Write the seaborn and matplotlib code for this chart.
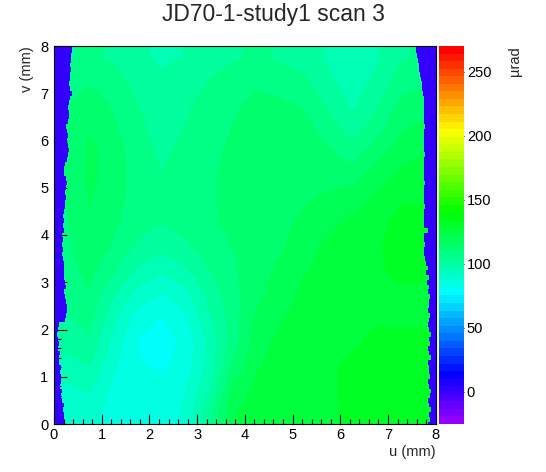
import colorsys
import numpy as np
import matplotlib
matplotlib.use("Agg")
import matplotlib.pyplot as plt
from matplotlib.colors import ListedColormap, Normalize
from matplotlib.cm import ScalarMappable
from matplotlib.ticker import MultipleLocator
import seaborn as sns

title = "JD70-1-study1 scan 3"
u_label = "u (mm)"
v_label = "v (mm)"
z_label = "µrad"

z_min, z_max = -25.0, 270.0
z_ticks = [0, 50, 100, 150, 200, 250]
empty_value = 0.0  # bins with no measurement at the sample edges

# deflection map in 0.5 mm cells, first row is v = 7.75, last row v = 0.25
# columns are u = 0.25 ... 7.75
grid_rows = [
    [104, 106, 104, 100, 98, 99, 102, 104, 106, 104, 102, 98, 96, 98, 104, 106],
    [108, 110, 107, 103, 100, 102, 105, 108, 110, 108, 106, 100, 96, 100, 108, 110],
    [110, 114, 110, 105, 102, 104, 107, 110, 112, 112, 110, 104, 98, 104, 112, 114],
    [111, 116, 112, 106, 103, 105, 108, 111, 113, 114, 113, 108, 102, 108, 116, 118],
    [111, 118, 114, 107, 104, 106, 109, 112, 113, 114, 114, 112, 108, 114, 120, 122],
    [111, 118, 114, 108, 105, 107, 110, 112, 113, 114, 115, 114, 114, 120, 124, 126],
    [111, 117, 113, 108, 106, 108, 110, 112, 113, 114, 116, 118, 120, 124, 128, 128],
    [110, 116, 112, 107, 105, 107, 110, 112, 113, 115, 118, 121, 124, 127, 130, 130],
    [109, 115, 110, 104, 101, 104, 108, 111, 113, 116, 120, 124, 126, 128, 130, 130],
    [108, 113, 106, 98, 94, 98, 105, 110, 114, 118, 122, 125, 127, 128, 129, 129],
    [106, 110, 100, 91, 87, 91, 101, 109, 115, 120, 124, 126, 127, 128, 128, 128],
    [104, 107, 95, 85, 81, 86, 98, 108, 118, 122, 125, 127, 128, 128, 128, 128],
    [101, 104, 91, 81, 78, 83, 95, 108, 120, 124, 126, 127, 128, 129, 129, 129],
    [97, 99, 88, 82, 80, 84, 95, 112, 122, 125, 127, 128, 129, 130, 130, 130],
    [92, 94, 86, 85, 84, 87, 98, 118, 124, 126, 127, 128, 129, 130, 130, 130],
    [88, 90, 84, 84, 84, 88, 104, 122, 126, 127, 128, 128, 129, 130, 130, 130],
]

# where the measured area starts and ends along u, every 0.1 mm in v (0 ... 8)
edge_v = [i / 10 for i in range(81)]
left_edge_u = [
    0.22, 0.20, 0.21, 0.18, 0.20, 0.17, 0.15, 0.16, 0.13, 0.15,
    0.14, 0.12, 0.14, 0.11, 0.10, 0.12, 0.09, 0.10, 0.08, 0.07,
    0.08, 0.10, 0.24, 0.26, 0.28, 0.27, 0.25, 0.24, 0.22, 0.25,
    0.23, 0.21, 0.22, 0.20, 0.21, 0.19, 0.17, 0.18, 0.16, 0.18,
    0.17, 0.20, 0.19, 0.21, 0.19, 0.22, 0.24, 0.23, 0.25, 0.24,
    0.26, 0.27, 0.25, 0.22, 0.21, 0.23, 0.28, 0.30, 0.31, 0.29,
    0.28, 0.30, 0.27, 0.25, 0.30, 0.31, 0.32, 0.30, 0.31, 0.33,
    0.38, 0.33, 0.32, 0.34, 0.33, 0.35, 0.34, 0.36, 0.35, 0.37, 0.37,
]
right_edge_u = [
    7.84, 7.88, 7.86, 7.90, 7.85, 7.83, 7.88, 7.91, 7.86, 7.84,
    7.89, 7.85, 7.87, 7.83, 7.90, 7.86, 7.84, 7.88, 7.85, 7.91,
    7.87, 7.84, 7.86, 7.89, 7.83, 7.87, 7.85, 7.88, 7.84, 7.86,
    7.82, 7.85, 7.80, 7.83, 7.79, 7.77, 7.76, 7.76, 7.77, 7.76,
    7.76, 7.83, 7.76, 7.75, 7.76, 7.76, 7.77, 7.76, 7.75, 7.76,
    7.76, 7.77, 7.76, 7.76, 7.75, 7.76, 7.76, 7.77, 7.76, 7.76,
    7.75, 7.76, 7.76, 7.77, 7.76, 7.75, 7.76, 7.76, 7.75, 7.75,
    7.74, 7.72, 7.71, 7.70, 7.68, 7.66, 7.64, 7.62, 7.60, 7.59, 7.59,
]

sns.set_theme(style="white")
plt.rcParams["font.family"] = ["Liberation Sans", "DejaVu Sans"]

# ROOT style palette: 50 HLS colours, violet -> red
palette = [colorsys.hls_to_rgb((280 - (i + 1) * 5.6) / 360, 0.5, 1.0) for i in range(50)]
cmap = ListedColormap(palette)
norm = Normalize(z_min, z_max)
empty_color = cmap(norm(empty_value))

W, H = 546, 472
fig = plt.figure(figsize=(W / 100, H / 100), dpi=100)
ax = fig.add_axes([54 / W, 48 / H, 381.7 / W, 378 / H])

ax.imshow(np.array(grid_rows, dtype=float), extent=(0, 8, 0, 8), origin="upper",
          cmap=cmap, norm=norm, interpolation="bilinear",
          interpolation_stage="data", aspect="auto")
ax.fill_betweenx(edge_v, 0, left_edge_u, step="mid", color=empty_color,
                 linewidth=0, antialiased=False)
ax.fill_betweenx(edge_v, right_edge_u, 8, step="mid", color=empty_color,
                 linewidth=0, antialiased=False)

ax.set_xlim(0, 8)
ax.set_ylim(0, 8)
ax.set_xticks(range(9))
ax.set_yticks(range(9))
ax.xaxis.set_minor_locator(MultipleLocator(0.2))
ax.yaxis.set_minor_locator(MultipleLocator(0.2))
ax.tick_params(which="both", direction="in", bottom=True, left=True,
               top=False, right=False, color="black", width=0.8,
               labelsize=10.5, labelcolor="black")
ax.tick_params(axis="x", which="major", length=7.2, pad=3)
ax.tick_params(axis="x", which="minor", length=3.6)
ax.tick_params(axis="y", which="major", length=9.4, pad=4)
ax.tick_params(axis="y", which="minor", length=5)
for sp in ax.spines.values():
    sp.set_color("black")
    sp.set_linewidth(0.8)
    sp.set_zorder(5)

cax = fig.add_axes([439 / W, 48 / H, 25 / W, 378 / H])
cbar = fig.colorbar(ScalarMappable(norm=norm, cmap=cmap), cax=cax)
cbar.outline.set_visible(False)
cbar.set_ticks(z_ticks)
cax.tick_params(direction="in", right=True, left=False, length=9.4, width=0.8,
                color="black", labelsize=10.5, labelcolor="black", pad=2)

fig.text(0.5, 1 - 15 / H, title, ha="center", va="center", fontsize=16.5)
fig.text(436 / W, 1 - 452 / H, u_label, ha="right", va="center", fontsize=10.5)
fig.text(27 / W, 1 - 46 / H, v_label, ha="center", va="top", rotation=90, fontsize=10.5)
fig.text(515 / W, 1 - 46 / H, z_label, ha="center", va="top", rotation=90, fontsize=10.5)

fig.savefig("out.png", dpi=100)
